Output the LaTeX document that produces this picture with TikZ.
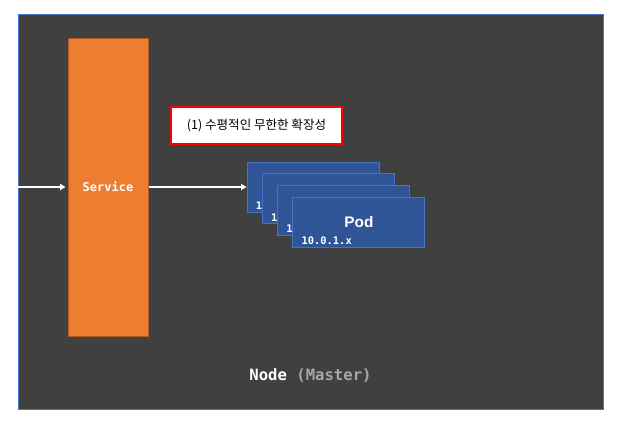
\documentclass[tikz,border=0pt]{standalone}
\usepackage{fontspec}
\setmainfont{Liberation Sans}
\setmonofont{DejaVu Sans Mono}
\newfontfamily\krfont{Noto Sans CJK KR}
\usetikzlibrary{arrows.meta,calc,positioning}
\definecolor{bgdark}{HTML}{404040}
\definecolor{frameblue}{HTML}{4472C4}
\definecolor{svcorange}{HTML}{ED7D31}
\definecolor{svcedge}{HTML}{AE5A21}
\definecolor{podblue}{HTML}{2F5597}
\definecolor{mastergray}{HTML}{A6A6A6}
\begin{document}
\begin{tikzpicture}[x=0.75pt,y=-0.75pt,
	flow/.style={draw=white,line width=1.5pt,-{Triangle[length=4pt,width=4.5pt]}},
	podbox/.style={draw=frameblue,fill=podblue,line width=.75pt,minimum width=99pt,minimum height=37.5pt,inner sep=0pt}]
	\useasboundingbox (0,0) rectangle (623,422);
	\node[draw=frameblue,fill=bgdark,line width=.75pt,minimum width=438.75pt,minimum height=296.25pt,inner sep=0pt] (frame) at (310.5,211.5) {};
	\node[draw=svcedge,fill=svcorange,line width=.75pt,minimum width=60pt,minimum height=223.5pt,inner sep=0pt,text=white,font=\ttfamily\bfseries\fontsize{9pt}{10pt}\selectfont] (svc) at (108,187) {Service};
	\node[draw=red,fill=white,line width=1.9pt,minimum width=128pt,minimum height=27.5pt,inner sep=0pt,font=\krfont\fontsize{9.4pt}{11pt}\selectfont] (note) at (256.5,125.5) {(1) 수평적인 무한한 확장성};
	% stacked pods, only the front one shows its name
	\foreach \i in {1,...,4} {
		\node[podbox] (pod\i) at ({313+15.3*(\i-1)},{187+11.8*(\i-1)}) {};
		\node[anchor=west,inner sep=0pt,text=white,font=\ttfamily\bfseries\fontsize{7.8pt}{9pt}\selectfont] (ip\i) at ($(pod\i.south west)+(9,-7)$) {10.0.1.x};
	}
	\node[text=white,font=\bfseries\fontsize{11.5pt}{12pt}\selectfont] (podname) at (pod4) {Pod};
	\coordinate (entry) at (frame.west |- svc);
	\draw[flow] (entry) -- ($(svc.west)+(-2,0)$);
	\draw[flow] (svc.east) -- (pod1.west);
	\node[font=\ttfamily\bfseries\fontsize{11.7pt}{13pt}\selectfont] (label) at ($(frame.south)+(0,-34)$) {\textcolor{white}{Node} \textcolor{mastergray}{(Master)}};
\end{tikzpicture}
\end{document}
